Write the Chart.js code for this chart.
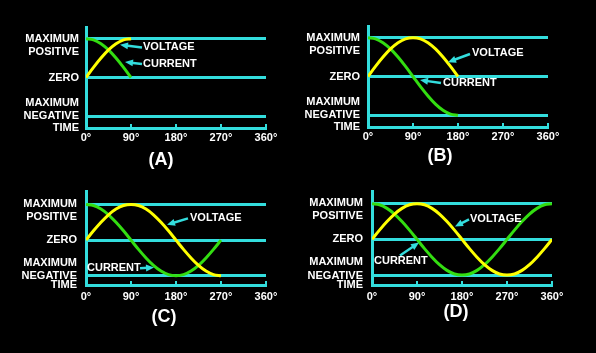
<!DOCTYPE html>
<html>
<head>
<meta charset="utf-8">
<script src="https://cdn.jsdelivr.net/npm/chart.js@4.4.1/dist/chart.umd.min.js"></script>
<style>
  html, body { margin: 0; padding: 0; background: #000; }
  #wrap { position: relative; width: 596px; height: 353px; background: #000; overflow: hidden; }
  #wrap canvas { position: absolute; }
  .caption {
    position: absolute; color: #fff; transform: translate(-50%, -50%);
    font: bold 18px "Liberation Sans", Arial, sans-serif; white-space: nowrap;
  }
</style>
</head>
<body>
<div id="wrap">
  <canvas id="chartA" width="298" height="176" style="left:0;top:0"></canvas>
  <canvas id="chartB" width="298" height="176" style="left:298px;top:0"></canvas>
  <canvas id="chartC" width="298" height="176" style="left:0;top:176px"></canvas>
  <canvas id="chartD" width="298" height="176" style="left:298px;top:176px"></canvas>
  <div class="caption" style="left:161px;top:159px">(A)</div>
  <div class="caption" style="left:440px;top:155px">(B)</div>
  <div class="caption" style="left:164px;top:316px">(C)</div>
  <div class="caption" style="left:456px;top:311px">(D)</div>
</div>
<script>
"use strict";

// values, every 15 degrees
const angles = [0, 15, 30, 45, 60, 75, 90, 105, 120, 135, 150, 165, 180,
  195, 210, 225, 240, 255, 270, 285, 300, 315, 330, 345, 360];
const voltage = [0, 0.26, 0.5, 0.71, 0.87, 0.97, 1, 0.97, 0.87, 0.71, 0.5, 0.26, 0,
  -0.26, -0.5, -0.71, -0.87, -0.97, -1, -0.97, -0.87, -0.71, -0.5, -0.26, 0];
const current = [1, 0.97, 0.87, 0.71, 0.5, 0.26, 0, -0.26, -0.5, -0.71, -0.87, -0.97, -1,
  -0.97, -0.87, -0.71, -0.5, -0.26, 0, 0.26, 0.5, 0.71, 0.87, 0.97, 1];

const panelIds = ["chartA", "chartB", "chartC", "chartD"];
const panelEndAngles = [90, 180, 270, 360];
const degreeTicks = [0, 90, 180, 270, 360];
const levelValues = [1, 0, -1];
const levelNames = [["MAXIMUM", "POSITIVE"], "ZERO", ["MAXIMUM", "NEGATIVE"]];
const timeName = "TIME";

const CYAN = "#33dddd";
const YELLOW = "#ffff00";
const GREEN = "#33dd11";
const FONT = "'Liberation Sans', Arial, sans-serif";

// layout of each panel inside its canvas + where the callouts sit (deg, value)
const panels = [
  {
    yMin: -1.3, yMax: 1.3, top: 27, right: 32, yWidth: 86, xHeight: 48, yPad: 7, xPad: 7.4,
    callouts: [
      { text: "VOLTAGE", at: [114, 0.79], tail: [112, 0.77], tip: [68, 0.84] },
      { text: "CURRENT", at: [114, 0.35], tail: [112, 0.35], tip: [78, 0.40] },
    ],
  },
  {
    yMin: -1.3, yMax: 1.3, top: 26, right: 48, yWidth: 70, xHeight: 49, yPad: 8, xPad: 7.4,
    callouts: [
      { text: "VOLTAGE", at: [208, 0.60], tail: [204, 0.58], tip: [160, 0.37] },
      { text: "CURRENT", at: [150, -0.17], tail: [146, -0.17], tip: [104, -0.09] },
    ],
  },
  {
    yMin: -1.26, yMax: 1.36, top: 8, right: 32, yWidth: 86, xHeight: 67, yPad: 9, xPad: 9.4,
    callouts: [
      { text: "VOLTAGE", at: [208, 0.61], tail: [204, 0.61], tip: [162, 0.43] },
      { text: "CURRENT", at: [2, -0.79], tail: [108, -0.79], tip: [136, -0.77] },
    ],
  },
  {
    yMin: -1.28, yMax: 1.34, top: 8, right: 44, yWidth: 74, xHeight: 67, yPad: 9, xPad: 9.4,
    callouts: [
      { text: "VOLTAGE", at: [196, 0.56], tail: [194, 0.56], tip: [166, 0.36] },
      { text: "CURRENT", at: [4, -0.61], tail: [56, -0.45], tip: [94, -0.09] },
    ],
  },
];

const calloutPlugin = {
  id: "callouts",
  afterDatasetsDraw(chart, args, opts) {
    const { ctx } = chart;
    const xs = chart.scales.x;
    const ys = chart.scales.y;
    ctx.save();
    for (const c of opts.items) {
      const tx = xs.getPixelForValue(c.tail[0]);
      const ty = ys.getPixelForValue(c.tail[1]);
      const hx = xs.getPixelForValue(c.tip[0]);
      const hy = ys.getPixelForValue(c.tip[1]);
      const a = Math.atan2(hy - ty, hx - tx);
      const ca = Math.cos(a);
      const sa = Math.sin(a);
      ctx.strokeStyle = CYAN;
      ctx.fillStyle = CYAN;
      ctx.lineWidth = 2.5;
      ctx.beginPath();
      ctx.moveTo(tx, ty);
      ctx.lineTo(hx - 6 * ca, hy - 6 * sa);
      ctx.stroke();
      ctx.beginPath();
      ctx.moveTo(hx, hy);
      ctx.lineTo(hx - 8 * ca + 3.5 * sa, hy - 8 * sa - 3.5 * ca);
      ctx.lineTo(hx - 8 * ca - 3.5 * sa, hy - 8 * sa + 3.5 * ca);
      ctx.closePath();
      ctx.fill();

      ctx.fillStyle = "#ffffff";
      ctx.font = "bold 11px " + FONT;
      ctx.textAlign = "left";
      ctx.textBaseline = "middle";
      ctx.fillText(c.text, xs.getPixelForValue(c.at[0]), ys.getPixelForValue(c.at[1]));
    }
    ctx.restore();
  },
};

for (let i = 0; i < panels.length; i++) {
  const p = panels[i];
  const end = angles.indexOf(panelEndAngles[i]) + 1;
  const xyVoltage = angles.slice(0, end).map((a, k) => ({ x: a, y: voltage[k] }));
  const xyCurrent = angles.slice(0, end).map((a, k) => ({ x: a, y: current[k] }));

  // y ticks: TIME on the axis, names next to their lines
  const yTicks = [
    { value: p.yMin, label: timeName },
    { value: levelValues[2], label: "" },
    { value: -0.83, label: levelNames[2] },
    { value: levelValues[1], label: levelNames[1] },
    { value: 0.83, label: levelNames[0] },
    { value: levelValues[0], label: "" },
  ];

  const config = {
    type: "line",
    data: {
      datasets: [
        {
          label: "Voltage",
          data: xyVoltage,
          borderColor: YELLOW,
          borderWidth: 3,
          pointRadius: 0,
          cubicInterpolationMode: "monotone",
        },
        {
          label: "Current",
          data: xyCurrent,
          borderColor: GREEN,
          borderWidth: 3,
          pointRadius: 0,
          cubicInterpolationMode: "monotone",
        },
      ],
    },
    options: {
      responsive: false,
      animation: false,
      events: [],
      layout: { padding: { top: p.top, right: p.right, left: 0, bottom: 0 } },
      plugins: {
        legend: { display: false },
        tooltip: { enabled: false },
        callouts: { items: p.callouts },
      },
      scales: {
        x: {
          type: "linear",
          min: 0,
          max: 360,
          afterBuildTicks: (scale) => {
            scale.ticks = degreeTicks.map((v) => ({ value: v }));
          },
          afterFit: (scale) => {
            scale.height = p.xHeight;
          },
          ticks: {
            color: "#ffffff",
            padding: p.xPad,
            maxRotation: 0,
            autoSkip: false,
            font: { family: FONT, size: 11, weight: "bold", lineHeight: 1.2 },
            callback: (value) => `${value}°`,
          },
          grid: {
            drawOnChartArea: false,
            drawTicks: true,
            tickLength: -4,
            color: CYAN,
            lineWidth: 2,
          },
          border: { color: CYAN, width: 3 },
        },
        y: {
          type: "linear",
          min: p.yMin,
          max: p.yMax,
          afterBuildTicks: (scale) => {
            scale.ticks = yTicks.map((t) => ({ value: t.value }));
          },
          afterFit: (scale) => {
            scale.width = p.yWidth;
          },
          ticks: {
            color: "#ffffff",
            padding: p.yPad,
            autoSkip: false,
            font: { family: FONT, size: 11, weight: "bold", lineHeight: 1.2 },
            callback: (value, index) => yTicks[index].label,
          },
          grid: {
            drawTicks: false,
            lineWidth: 3,
            color: (ctx) =>
              ctx.tick && levelValues.includes(ctx.tick.value) ? CYAN : "rgba(0,0,0,0)",
          },
          border: { color: CYAN, width: 3 },
        },
      },
    },
    plugins: [calloutPlugin],
  };

  new Chart(document.getElementById(panelIds[i]), config);
}
</script>
</body>
</html>
